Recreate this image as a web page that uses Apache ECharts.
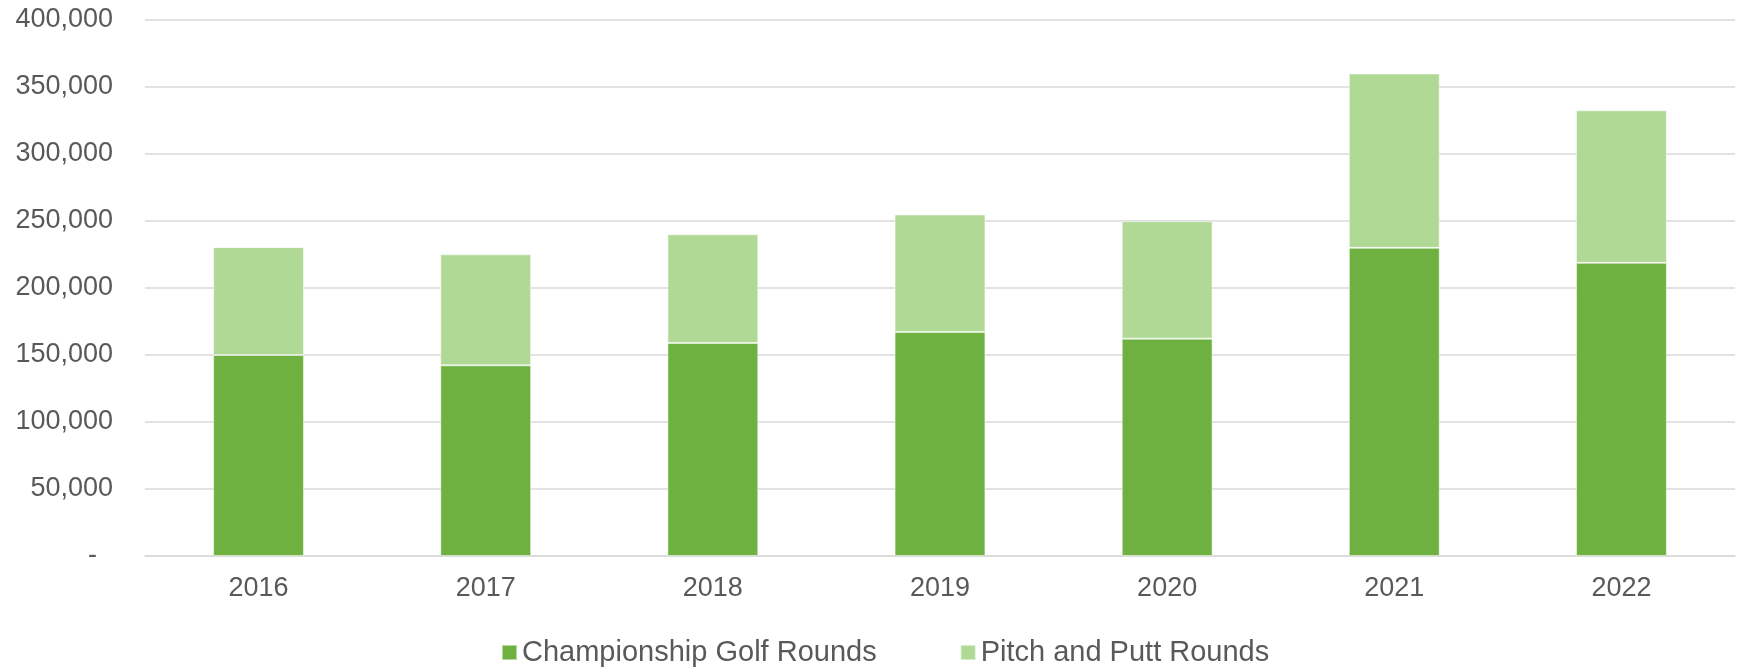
<!DOCTYPE html>
<html>
<head>
<meta charset="utf-8">
<script src="https://cdn.jsdelivr.net/npm/echarts@6/dist/echarts.min.js"></script>
<style>
  html, body { margin: 0; padding: 0; background: #fff; }
  #chart { width: 1742px; height: 667px; }
</style>
</head>
<body>
<div id="chart"></div>
<script>
// years on the x axis
var years = ['2016', '2017', '2018', '2019', '2020', '2021', '2022']
// rounds played
var championshipRounds = [150000, 142300, 159000, 167200, 162200, 230000, 218800]
var pitchPuttRounds = [80500, 82800, 81100, 87600, 87600, 130000, 113800]

var textColor = '#595959'
var font = '"Liberation Sans", Arial, sans-serif'

var chart = echarts.init(document.getElementById('chart'))

chart.setOption({
  backgroundColor: '#fff',
  animation: false,
  grid: {
    left: 145,
    right: 7,
    top: 20,
    bottom: 111
  },
  legend: {
    top: 633,
    left: 496,
    itemWidth: 15,
    itemHeight: 15,
    itemGap: 83,
    icon: 'rect',
    textStyle: { color: textColor, fontSize: 29, fontFamily: font },
    data: ['Championship Golf Rounds', 'Pitch and Putt Rounds']
  },
  xAxis: {
    type: 'category',
    data: years,
    axisTick: { show: false },
    axisLine: { lineStyle: { color: '#D9D9D9', width: 1.5 } },
    axisLabel: { color: textColor, fontSize: 27, fontFamily: font, margin: 19 }
  },
  yAxis: {
    type: 'value',
    min: 0,
    max: 400000,
    interval: 50000,
    axisLine: { show: false },
    axisTick: { show: false },
    splitLine: { lineStyle: { color: '#D9D9D9', width: 1.5 } },
    axisLabel: {
      color: textColor,
      fontSize: 27,
      fontFamily: font,
      margin: 32,
      formatter: function (v) {
        // Excel accounting style: zero shows as a dash
        if (v === 0) return '{dash|-}'
        return echarts.format.addCommas(v)
      },
      rich: {
        dash: { color: textColor, fontSize: 27, fontFamily: font, padding: [0, 16, 0, 0] }
      }
    }
  },
  series: [{
    name: 'Championship Golf Rounds',
    type: 'bar',
    stack: 'rounds',
    barWidth: '40%',
    itemStyle: { color: '#6FB140', borderColor: 'rgba(255,255,255,0.5)', borderWidth: 1 },
    data: championshipRounds
  }, {
    name: 'Pitch and Putt Rounds',
    type: 'bar',
    stack: 'rounds',
    barWidth: '40%',
    itemStyle: { color: '#AFD994', borderColor: 'rgba(255,255,255,0.5)', borderWidth: 1 },
    data: pitchPuttRounds
  }]
})
</script>
</body>
</html>
